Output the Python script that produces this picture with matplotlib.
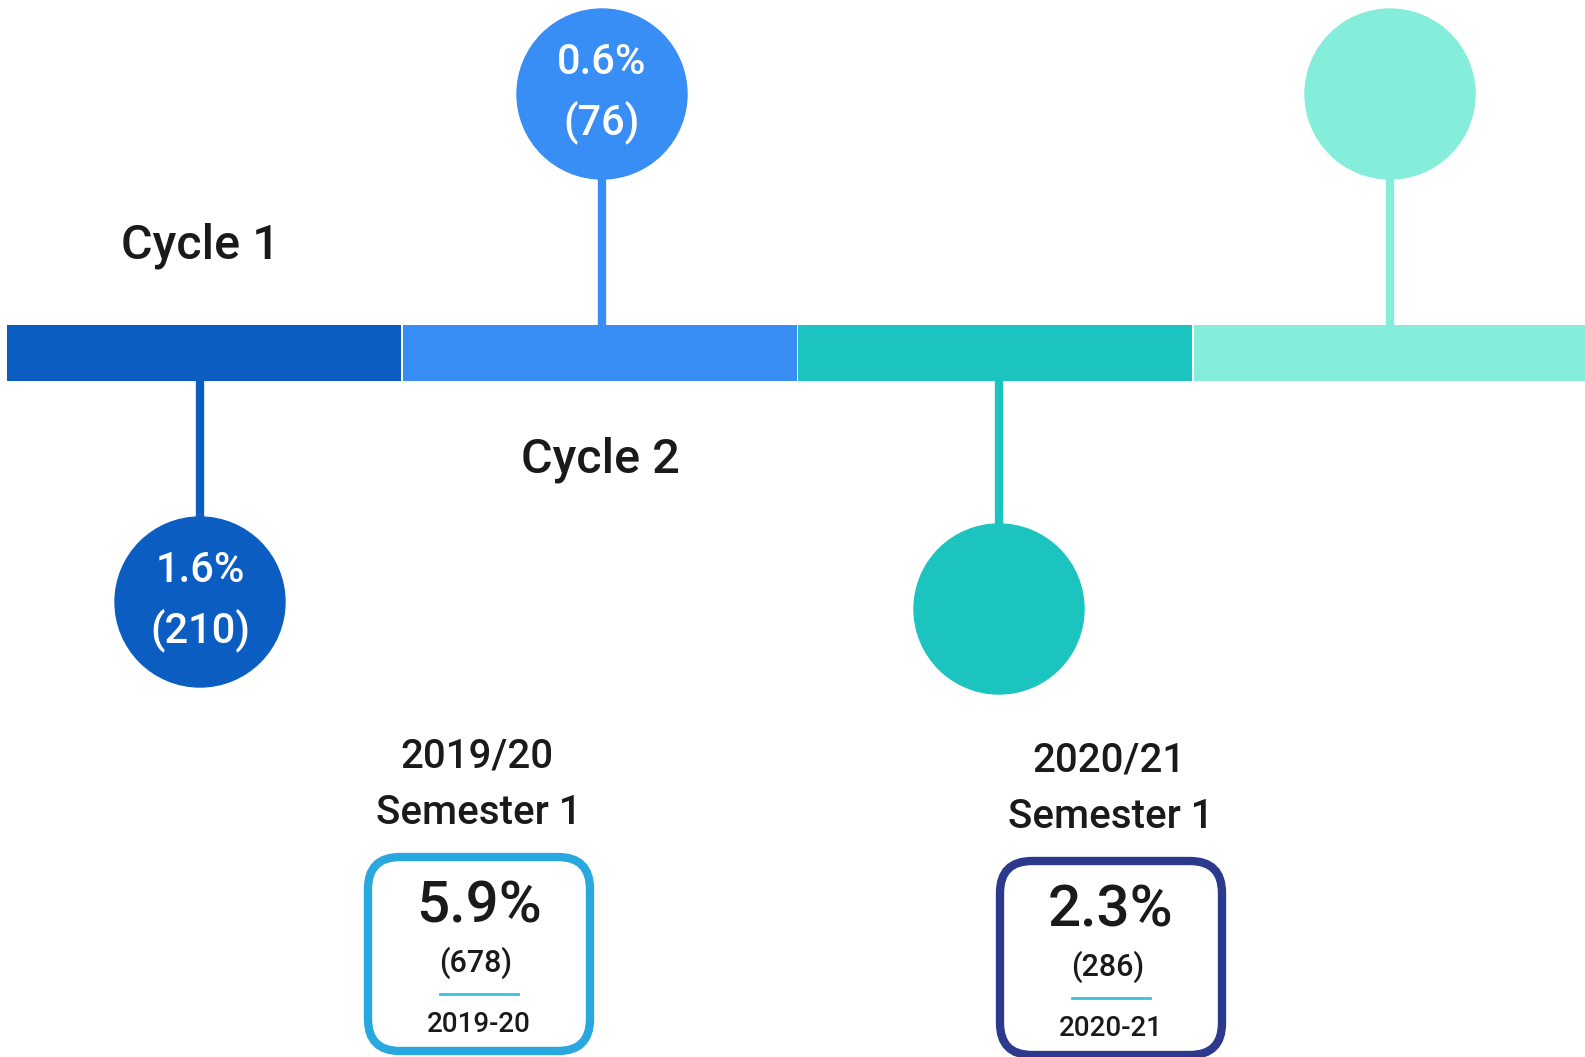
"""Timeline chart: cycle segments with stem circles and semester boxes"""

import matplotlib.pyplot as plt
from matplotlib.patches import Circle, FancyBboxPatch

plt.rcParams["font.family"] = ["Roboto", "DejaVu Sans"]

# Timeline segments
segment_colors = ["#0B5DC2", "#388EF5", "#1CC4BF", "#84EEDA"]
cycle_labels = ["Cycle 1", "Cycle 2"]

# Circle values (None = empty circle)
circle_pct = ["1.6%", "0.6%", None, None]
circle_count = ["(210)", "(76)", None, None]
circle_up = [False, True, False, True]

# Semester boxes
semester_years_title = ["2019/20", "2020/21"]
semester_title = ["Semester 1", "Semester 1"]
semester_pct = ["5.9%", "2.3%"]
semester_count = ["(678)", "(286)"]
semester_years = ["2019-20", "2020-21"]
semester_colors = ["#29A8E0", "#2B3A8C"]

W, H = 1585, 1057
TEXT = "#1a1a1a"

fig = plt.figure(figsize=(W / 100, H / 100), dpi=100)
ax = fig.add_axes([0, 0, 1, 1])
ax.set_xlim(0, W)
ax.set_ylim(H, 0)
ax.set_aspect("equal")
ax.axis("off")

# Bar segments
seg_left = 7
seg_w = 395.5
bar_top, bar_bot = 325, 381
for i, col in enumerate(segment_colors):
    ax.barh((bar_top + bar_bot) / 2, seg_w - 1.5, height=bar_bot - bar_top,
            left=seg_left + i * seg_w, color=col, zorder=2)

# Stems and circles
centers_x = [200, 602, 999, 1390]
centers_y = [602, 94, 609, 94]
r = 85
for i, col in enumerate(segment_colors):
    cx, cy = centers_x[i], centers_y[i]
    if circle_up[i]:
        ax.plot([cx, cx], [cy + r - 2, bar_top], color=col, lw=6, zorder=1,
                solid_capstyle="butt")
    else:
        ax.plot([cx, cx], [bar_bot, cy - r + 2], color=col, lw=6, zorder=1,
                solid_capstyle="butt")
    ax.add_patch(Circle((cx, cy), r, color=col, zorder=3))
    if circle_pct[i]:
        ax.text(cx, cy - 31, circle_pct[i], color="white", fontsize=30,
                fontweight="medium", ha="center", va="center", zorder=4)
        ax.text(cx, cy + 28, circle_count[i], color="white", fontsize=30,
                fontweight="medium", ha="center", va="center", zorder=4)

# Cycle labels
ax.text(200, 246, cycle_labels[0], fontsize=35, fontweight="medium",
        color=TEXT, ha="center", va="center")
ax.text(600, 460, cycle_labels[1], fontsize=35, fontweight="medium",
        color=TEXT, ha="center", va="center")

# Semester boxes
box_x = [368, 1000]
box_w = 222
box_top = [857, 861]
box_h = 194
for i in range(2):
    bx = box_x[i]
    mid = bx + box_w / 2
    ax.add_patch(FancyBboxPatch((bx, box_top[i]), box_w, box_h,
                                boxstyle="round,pad=0,rounding_size=32",
                                fc="white", ec=semester_colors[i], lw=6,
                                zorder=2))
    ax.text(mid - 2, box_top[i] - 100, semester_years_title[i], fontsize=29,
            fontweight="medium", color=TEXT, ha="center", va="center")
    ax.text(mid, box_top[i] - 44, semester_title[i], fontsize=29,
            fontweight="medium", color=TEXT, ha="center", va="center")
    ax.text(mid, box_top[i] + 50, semester_pct[i], fontsize=42,
            fontweight="medium", color=TEXT, ha="center", va="center",
            zorder=3)
    ax.text(mid - 3, box_top[i] + 106, semester_count[i], fontsize=22,
            fontweight="medium", color=TEXT, ha="center", va="center",
            zorder=3)
    ax.plot([mid - 39, mid + 39], [box_top[i] + 137] * 2, color="#3BC0DC",
            lw=2, zorder=3)
    ax.text(mid, box_top[i] + 167, semester_years[i], fontsize=20,
            fontweight="medium", color=TEXT, ha="center", va="center",
            zorder=3)

fig.savefig("out.png", dpi=100)
